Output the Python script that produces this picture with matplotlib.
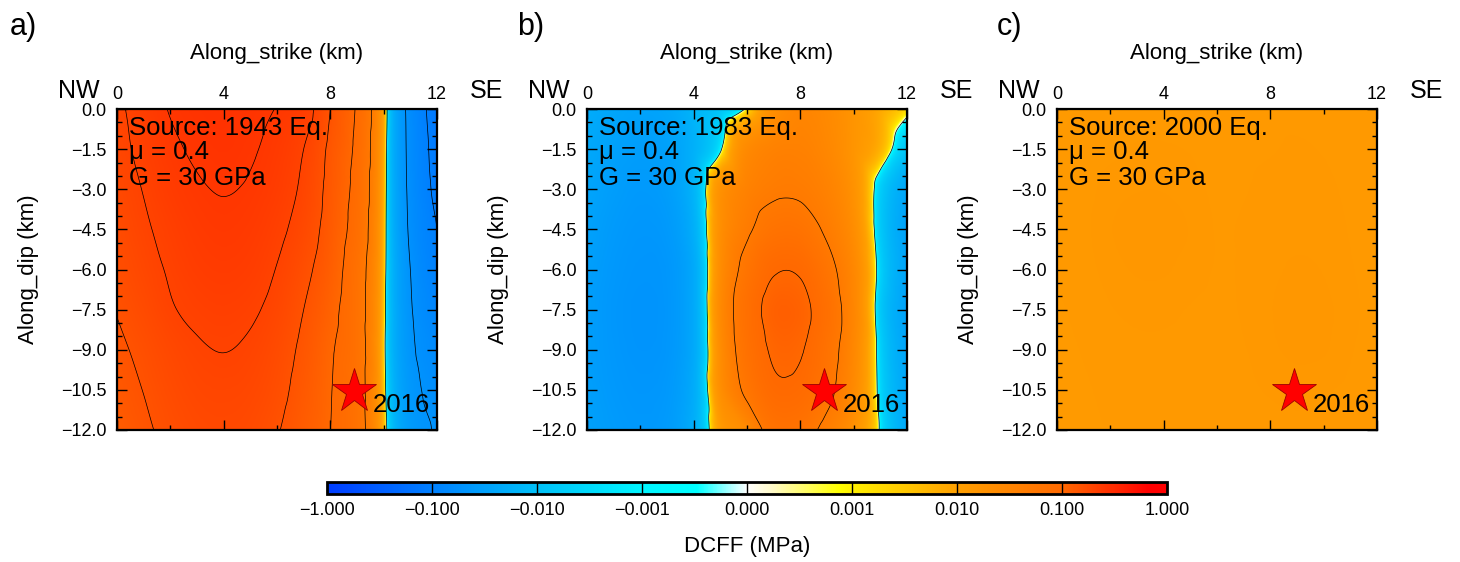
import numpy as np
import matplotlib
matplotlib.use("Agg")
import matplotlib.pyplot as plt
import matplotlib.tri as mtri
from matplotlib.colors import LinearSegmentedColormap, FuncNorm

plt.rcParams['font.family'] = ['Liberation Sans', 'DejaVu Sans']

# ---------------------------------------------------------------------------
# Fault-plane grid (km): along strike 0..12, along dip 0..-12
strike_nodes = [0, 1, 2, 3, 4, 5, 6, 7, 8, 9, 10, 11, 12]
dip_nodes = [0.0, -1.5, -3.0, -4.5, -6.0, -7.5, -9.0, -10.5, -12.0]

# DCFF (MPa) on the fault plane, one row per dip node
dcff_1943 = [
    [0.190, 0.222, 0.253, 0.268, 0.272, 0.263, 0.248, 0.225, 0.150, 0.095, 0.010, -0.062, -0.125],
    [0.185, 0.213, 0.240, 0.257, 0.265, 0.255, 0.235, 0.200, 0.140, 0.090, 0.008, -0.060, -0.118],
    [0.178, 0.202, 0.228, 0.245, 0.252, 0.245, 0.225, 0.190, 0.135, 0.085, 0.007, -0.058, -0.112],
    [0.170, 0.193, 0.215, 0.234, 0.242, 0.234, 0.212, 0.178, 0.130, 0.080, 0.006, -0.055, -0.100],
    [0.162, 0.183, 0.205, 0.223, 0.230, 0.222, 0.198, 0.163, 0.122, 0.072, 0.005, -0.050, -0.092],
    [0.152, 0.172, 0.196, 0.209, 0.215, 0.207, 0.185, 0.150, 0.113, 0.070, 0.004, -0.047, -0.080],
    [0.142, 0.160, 0.180, 0.195, 0.201, 0.193, 0.172, 0.140, 0.105, 0.070, 0.003, -0.044, -0.068],
    [0.134, 0.151, 0.170, 0.184, 0.188, 0.182, 0.163, 0.133, 0.102, 0.068, 0.004, -0.040, -0.060],
    [0.125, 0.143, 0.161, 0.174, 0.178, 0.172, 0.153, 0.125, 0.100, 0.068, 0.006, -0.036, -0.053],
]

dcff_1983 = [
    [-0.020, -0.025, -0.028, -0.025, -0.015, -0.008, 0.001, 0.020, 0.030, 0.025, 0.016, 0.008, 0.002],
    [-0.023, -0.030, -0.034, -0.030, -0.017, -0.001, 0.025, 0.035, 0.036, 0.028, 0.016, 0.006, -0.008],
    [-0.026, -0.034, -0.039, -0.034, -0.015, 0.018, 0.035, 0.045, 0.045, 0.035, 0.018, -0.005, -0.024],
    [-0.029, -0.038, -0.043, -0.039, -0.018, 0.020, 0.045, 0.065, 0.065, 0.045, 0.022, -0.006, -0.028],
    [-0.032, -0.041, -0.046, -0.043, -0.022, 0.022, 0.062, 0.096, 0.095, 0.062, 0.028, -0.004, -0.026],
    [-0.034, -0.043, -0.048, -0.044, -0.022, 0.025, 0.075, 0.115, 0.112, 0.075, 0.030, -0.006, -0.028],
    [-0.034, -0.042, -0.047, -0.043, -0.022, 0.022, 0.070, 0.105, 0.103, 0.068, 0.028, -0.004, -0.026],
    [-0.032, -0.040, -0.044, -0.040, -0.020, 0.020, 0.058, 0.092, 0.090, 0.060, 0.025, -0.003, -0.024],
    [-0.030, -0.037, -0.041, -0.037, -0.018, 0.012, 0.025, 0.065, 0.065, 0.040, 0.018, -0.001, -0.022],
]

dcff_2000 = [
    [0.0128, 0.0129, 0.0130, 0.0131, 0.0131, 0.0130, 0.0130, 0.0131, 0.0132, 0.0132, 0.0131, 0.0130, 0.0129],
    [0.0129, 0.0130, 0.0132, 0.0134, 0.0134, 0.0133, 0.0131, 0.0132, 0.0133, 0.0134, 0.0133, 0.0131, 0.0130],
    [0.0129, 0.0131, 0.0136, 0.0138, 0.0138, 0.0136, 0.0132, 0.0133, 0.0135, 0.0136, 0.0135, 0.0132, 0.0130],
    [0.0129, 0.0132, 0.0138, 0.0141, 0.0141, 0.0138, 0.0133, 0.0134, 0.0136, 0.0137, 0.0136, 0.0133, 0.0130],
    [0.0129, 0.0131, 0.0136, 0.0139, 0.0139, 0.0136, 0.0133, 0.0134, 0.0137, 0.0139, 0.0138, 0.0134, 0.0130],
    [0.0128, 0.0130, 0.0133, 0.0135, 0.0135, 0.0133, 0.0132, 0.0134, 0.0138, 0.0141, 0.0140, 0.0135, 0.0131],
    [0.0127, 0.0129, 0.0131, 0.0132, 0.0132, 0.0131, 0.0131, 0.0133, 0.0137, 0.0140, 0.0139, 0.0134, 0.0130],
    [0.0127, 0.0128, 0.0130, 0.0131, 0.0131, 0.0130, 0.0130, 0.0132, 0.0134, 0.0135, 0.0134, 0.0132, 0.0129],
    [0.0126, 0.0127, 0.0129, 0.0130, 0.0130, 0.0129, 0.0129, 0.0130, 0.0131, 0.0132, 0.0131, 0.0130, 0.0128],
]

panel_letters = ['a)', 'b)', 'c)']
source_events = ['1943', '1983', '2000']
friction = '0.4'
shear_modulus = '30'

# 2016 hypocentre on the fault plane (km)
hypo_strike = 8.9
hypo_dip = -10.55

contour_levels = [-0.10, -0.05, 0.00, 0.05, 0.10, 0.15, 0.20, 0.25]
cbar_ticks = [-1.0, -0.1, -0.01, -0.001, 0.0, 0.001, 0.01, 0.1, 1.0]
x_ticks = [0, 4, 8, 12]
y_ticks = [0.0, -1.5, -3.0, -4.5, -6.0, -7.5, -9.0, -10.5, -12.0]

# ---------------------------------------------------------------------------
# Piecewise log colour scale: linear within +-0.001, one slot per decade beyond
LIN = 1e-3


def fwd(v):
    v = np.asarray(v, dtype=float)
    a = np.abs(v)
    lg = np.log10(np.maximum(a, 1e-12))
    return np.where(a <= LIN, 0.5 + 0.125 * v / LIN,
                    0.5 + np.sign(v) * 0.125 * (lg + 4.0))


def inv(p):
    p = np.asarray(p, dtype=float)
    d = p - 0.5
    ad = np.abs(d)
    return np.where(ad <= 0.125, d / 0.125 * LIN,
                    np.sign(d) * 10.0 ** (np.minimum(ad, 0.6) / 0.125 - 4.0))


norm = FuncNorm((fwd, inv), vmin=-1.0, vmax=1.0)

cmap_nodes = [
    (0.000, (0, 60, 255)),
    (0.125, (0, 128, 255)),
    (0.250, (0, 192, 248)),
    (0.375, (0, 245, 255)),
    (0.440, (0, 255, 255)),
    (0.500, (255, 255, 255)),
    (0.530, (255, 250, 200)),
    (0.610, (255, 255, 0)),
    (0.625, (255, 240, 0)),
    (0.750, (255, 160, 0)),
    (0.875, (255, 105, 0)),
    (0.980, (255, 0, 0)),
    (1.000, (255, 0, 0)),
]
cmap = LinearSegmentedColormap.from_list(
    'dcff', [(p, tuple(c / 255 for c in rgb)) for p, rgb in cmap_nodes], N=1024)

# ---------------------------------------------------------------------------
xs = np.array(strike_nodes, dtype=float)
ys = np.array(dip_nodes, dtype=float)
XX, YY = np.meshgrid(xs, ys)
nx, ny = len(xs), len(ys)
triangles = []
for j in range(ny - 1):
    for i in range(nx - 1):
        a = j * nx + i
        b, c = a + 1, a + nx
        d = c + 1
        triangles.append([a, b, d])
        triangles.append([a, d, c])
tri = mtri.Triangulation(XX.ravel(), YY.ravel(), np.array(triangles))

eps = 1e-6
xf = np.linspace(0 + eps, 12 - eps, 401)
yf = np.linspace(0 - eps, -12 + eps, 401)
XF, YF = np.meshgrid(xf, yf)

fig = plt.figure(figsize=(14.6, 5.62), dpi=100)

ax_left = [117 / 1460, 587 / 1460, 1057 / 1460]
ax_w = 320 / 1460
ax_b = 132 / 562
ax_h = 321 / 562
letter_x = [10 / 1460, 517 / 1460, 997 / 1460]

fields = [dcff_1943, dcff_1983, dcff_2000]
im = None
for k, field in enumerate(fields):
    ax = fig.add_axes([ax_left[k], ax_b, ax_w, ax_h])
    z = np.array(field, dtype=float)
    interp = mtri.CubicTriInterpolator(tri, z.ravel(), kind='geom')
    zf = interp(XF, YF)
    im = ax.imshow(zf, extent=(0, 12, -12, 0), origin='upper', cmap=cmap,
                   norm=norm, interpolation='bilinear', aspect='auto')
    ax.contour(XF, YF, zf, levels=contour_levels, colors='k', linewidths=0.5,
               negative_linestyles='solid')

    ax.plot(hypo_strike, hypo_dip, marker='*', ms=33, mfc='#ff0000',
            mec='#9a0000', mew=0.6, zorder=5)
    ax.text(9.6, -11.31, '2016', fontsize=18.5, ha='left', va='baseline', zorder=6)

    ax.text(0.037, 0.919, f'Source: {source_events[k]} Eq.', transform=ax.transAxes,
            fontsize=18.5, ha='left', va='baseline')
    ax.text(0.037, 0.843, f'\u03bc = {friction}', transform=ax.transAxes,
            fontsize=18.5, ha='left', va='baseline')
    ax.text(0.037, 0.763, f'G = {shear_modulus} GPa', transform=ax.transAxes,
            fontsize=18.5, ha='left', va='baseline')

    ax.set_xlim(0, 12)
    ax.set_ylim(-12, 0)
    ax.set_xticks(x_ticks)
    ax.set_xticklabels([str(v) for v in x_ticks])
    ax.set_xticks([2, 6, 10], minor=True)
    ax.set_yticks(y_ticks)
    ax.set_yticklabels([f'{v:.1f}'.replace('-', '\u2212') for v in y_ticks])
    ax.set_yticks(np.arange(-11.5, 0, 0.5), minor=True)
    ax.tick_params(axis='x', which='both', direction='in', top=True, bottom=True,
                   labeltop=True, labelbottom=False, labelsize=13, pad=4.5)
    ax.tick_params(axis='y', which='both', direction='in', left=True, right=True,
                   labelsize=13, pad=7.5)
    ax.tick_params(which='major', length=7, width=1.0)
    ax.tick_params(which='minor', length=3.5, width=1.0)
    for sp in ax.spines.values():
        sp.set_linewidth(1.6)

    ax.text(0.5, 1.155, 'Along_strike (km)', transform=ax.transAxes,
            fontsize=16, ha='center', va='baseline')
    ax.set_ylabel('Along_dip (km)', fontsize=16)
    ax.yaxis.set_label_coords(-0.245, 0.5)
    ax.text(-0.053, 1.034, 'NW', transform=ax.transAxes, fontsize=18,
            ha='right', va='baseline')
    ax.text(1.103, 1.034, 'SE', transform=ax.transAxes, fontsize=18,
            ha='left', va='baseline')

    fig.text(letter_x[k], 1 - 35 / 562, panel_letters[k], fontsize=22,
             ha='left', va='baseline')

# Colour bar
cax = fig.add_axes([327 / 1460, 68 / 562, 840 / 1460, 12 / 562])
cb = fig.colorbar(im, cax=cax, orientation='horizontal')
cb.set_ticks(cbar_ticks)
cb.set_ticklabels([f'{v:.3f}'.replace('-', '\u2212') for v in cbar_ticks])
cax.tick_params(length=0, pad=6, labelsize=13)
cb.outline.set_linewidth(2.0)
for v in cbar_ticks[1:-1]:
    cax.axvline(v, color='k', lw=1.0)
cb.set_label('DCFF (MPa)', fontsize=16, labelpad=12)

fig.savefig('out.png', dpi=100)
